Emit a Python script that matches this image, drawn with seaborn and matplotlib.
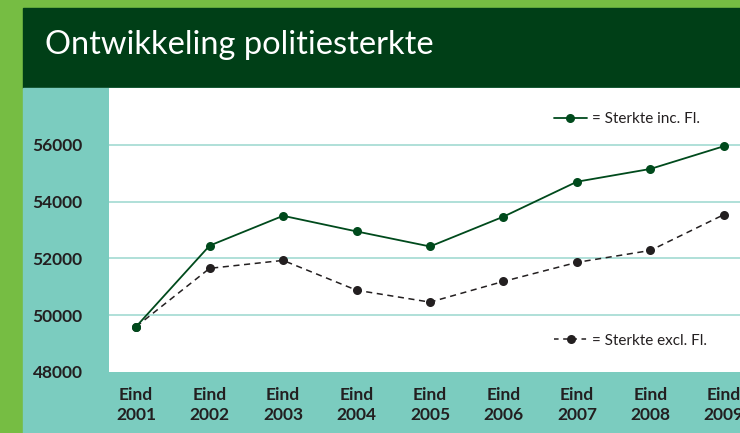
import matplotlib
matplotlib.use("Agg")
import matplotlib.pyplot as plt
from matplotlib.patches import Rectangle
from matplotlib.lines import Line2D
import pandas as pd
import seaborn as sns

# === DATA ===
years = ["2001", "2002", "2003", "2004", "2005", "2006", "2007", "2008", "2009"]
sterkte_inc = [49600, 52450, 53500, 52950, 52420, 53470, 54700, 55150, 55950]
sterkte_excl = [49600, 51650, 51930, 50880, 50460, 51190, 51860, 52280, 53540]
y_ticks = [48000, 50000, 52000, 54000, 56000]

# === COLOURS ===
outer_green = "#76bd43"
title_green = "#003f17"
teal = "#7bccbf"
grid_teal = "#a9ddd6"
inc_color = "#004a1c"
excl_color = "#231f20"

W, H = 740, 433

df = pd.DataFrame({
    "pos": range(len(years)),
    "inc": sterkte_inc,
    "excl": sterkte_excl,
})

sns.set_theme(style="white")
plt.rcParams["font.family"] = ["Lato", "DejaVu Sans"]

fig = plt.figure(figsize=(W / 100, H / 100), dpi=100, facecolor=outer_green)

# title band and teal panel
fig.patches.append(Rectangle((23 / W, (H - 88) / H), (W - 23) / W, 80 / H,
                             transform=fig.transFigure, color=title_green, zorder=0))
fig.patches.append(Rectangle((23 / W, 0), (W - 23) / W, (H - 88) / H,
                             transform=fig.transFigure, color=teal, zorder=0))
fig.text(45 / W, (H - 45) / H, "Ontwikkeling politiesterkte", color="white",
         fontsize=23.5, va="center", ha="left")

ax = fig.add_axes([109 / W, (H - 372) / H, (W - 109) / W, (372 - 88) / H])
ax.set_zorder(2)
ax.set_facecolor("white")

sns.lineplot(data=df, x="pos", y="excl", ax=ax, color=excl_color, lw=1.1,
             linestyle=(0, (4, 3)), marker="o", markersize=6.5,
             markeredgewidth=0, zorder=3)
sns.lineplot(data=df, x="pos", y="inc", ax=ax, color=inc_color, lw=1.3,
             marker="o", markersize=6.5, markeredgewidth=0, zorder=4)

ax.set_ylim(48000, 58000)
ax.set_xlim(-0.37, 8.22)
ax.set_yticks(y_ticks)
ax.set_yticklabels([str(v) for v in y_ticks])
ax.set_xticks(list(df["pos"]))
ax.set_xticklabels(["Eind\n" + y for y in years], linespacing=1.3)
ax.set_xlabel("")
ax.set_ylabel("")

for v in y_ticks[1:]:
    ax.axhline(v, color=grid_teal, lw=1.3, zorder=1)

for s in ax.spines.values():
    s.set_visible(False)
ax.tick_params(axis="both", length=0, colors="#231f20")
ax.tick_params(axis="y", pad=19)
ax.tick_params(axis="x", pad=11)
for lab in ax.get_yticklabels() + ax.get_xticklabels():
    lab.set_fontweight("bold")
    lab.set_fontsize(12.5)

# legends
h_inc = Line2D([], [], color=inc_color, lw=1.3, marker="o", markersize=6.5,
               markeredgewidth=0)
h_excl = Line2D([], [], color=excl_color, lw=1.1, linestyle=(0, (3, 3)),
                marker="o", markersize=6.5, markeredgewidth=0)
leg1 = ax.legend([h_inc], ["= Sterkte inc. Fl."], loc="center right",
                 bbox_to_anchor=(0.958, 0.89), frameon=False, fontsize=11,
                 handlelength=2.2, handletextpad=0.3, labelcolor="#231f20")
ax.add_artist(leg1)
ax.legend([h_excl], ["= Sterkte excl. Fl."], loc="center right",
          bbox_to_anchor=(0.97, 0.11), frameon=False, fontsize=11,
          handlelength=2.2, handletextpad=0.3, labelcolor="#231f20")

fig.savefig("out.png", dpi=100, facecolor=outer_green)
